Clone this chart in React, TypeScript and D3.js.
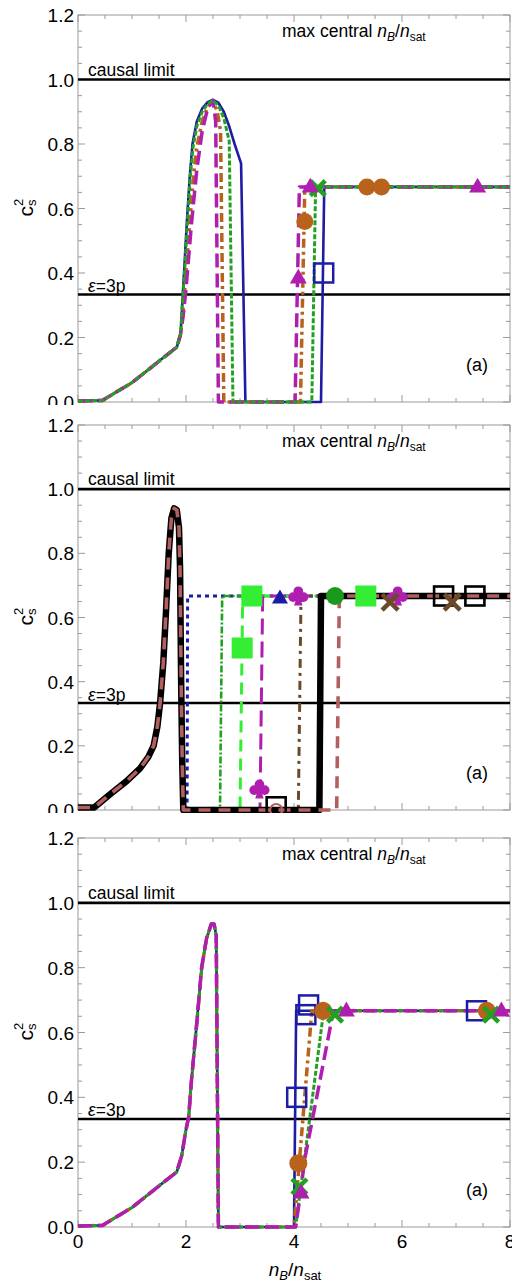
import React from "react";
import * as d3 from "d3";

type Pt = [number, number];

// ---- curve data: speed of sound squared vs. baryon density ----
const topLower: Pt[] = [[0, 0.003], [0.45, 0.005], [0.7, 0.03], [1.0, 0.06], [1.3, 0.1], [1.6, 0.14], [1.83, 0.17], [1.9, 0.21]];
const topBlue: Pt[] = [...topLower, [1.93, 0.3], [1.97, 0.42], [2.02, 0.57], [2.07, 0.7], [2.12, 0.8], [2.2, 0.87], [2.3, 0.91], [2.4, 0.93], [2.5, 0.937], [2.6, 0.928], [2.7, 0.9], [2.8, 0.855], [2.9, 0.8], [3.02, 0.74], [3.1, 0], [4.5, 0], [4.56, 0.667], [8, 0.667]];
const topGreen: Pt[] = [...topLower, [1.93, 0.3], [1.98, 0.42], [2.03, 0.57], [2.08, 0.7], [2.13, 0.79], [2.2, 0.855], [2.3, 0.9], [2.4, 0.925], [2.5, 0.935], [2.6, 0.92], [2.7, 0.88], [2.8, 0.81], [2.87, 0], [4.33, 0], [4.4, 0.667], [8, 0.667]];
const topOrange: Pt[] = [...topLower, [1.94, 0.27], [2.0, 0.4], [2.08, 0.58], [2.15, 0.72], [2.2, 0.79], [2.3, 0.87], [2.4, 0.915], [2.5, 0.933], [2.58, 0.9], [2.64, 0.84], [2.7, 0], [4.12, 0], [4.2, 0.667], [8, 0.667]];
const topMagenta: Pt[] = [...topLower, [1.95, 0.27], [2.0, 0.35], [2.1, 0.55], [2.2, 0.72], [2.3, 0.84], [2.4, 0.91], [2.5, 0.935], [2.55, 0.87], [2.6, 0], [4.02, 0], [4.1, 0.667], [8, 0.667]];

const midPeak: Pt[] = [[0, 0.008], [0.3, 0.008], [0.6, 0.05], [0.9, 0.09], [1.15, 0.13], [1.3, 0.165], [1.4, 0.2], [1.47, 0.26], [1.52, 0.333], [1.58, 0.46], [1.63, 0.62], [1.68, 0.8], [1.73, 0.91], [1.78, 0.94], [1.83, 0.935], [1.87, 0.88], [1.89, 0.75], [1.91, 0.4], [1.93, 0.15], [1.95, 0]];
const midBlue: Pt[] = [...midPeak, [2.02, 0], [2.03, 0.667], [8, 0.667]];
const midGreen: Pt[] = [...midPeak, [2.63, 0], [2.67, 0.667], [8, 0.667]];
const midLime: Pt[] = [...midPeak, [3.0, 0], [3.05, 0.667], [8, 0.667]];
const midMagenta: Pt[] = [...midPeak, [3.37, 0], [3.42, 0.667], [8, 0.667]];
const midBrown: Pt[] = [...midPeak, [4.08, 0], [4.13, 0.667], [8, 0.667]];
const midBlack: Pt[] = [...midPeak, [4.47, 0], [4.5, 0.667], [8, 0.667]];
const midRosy: Pt[] = [...midPeak, [4.79, 0], [4.84, 0.667], [8, 0.667]];

const botCommon: Pt[] = [[0, 0.003], [0.45, 0.005], [0.7, 0.03], [1.0, 0.06], [1.3, 0.1], [1.6, 0.14], [1.83, 0.17], [1.92, 0.22], [2.0, 0.3], [2.05, 0.34], [2.1, 0.45], [2.2, 0.63], [2.29, 0.8], [2.38, 0.89], [2.47, 0.935], [2.52, 0.935], [2.56, 0.9], [2.6, 0], [4.0, 0]];
const botBlue: Pt[] = [...botCommon, [4.04, 0.667], [8, 0.667]];
const botOrange: Pt[] = [...botCommon, [4.33, 0.667], [8, 0.667]];
const botGreen: Pt[] = [...botCommon, [4.03, 0], [4.55, 0.667], [8, 0.667]];
const botMagenta: Pt[] = [...botCommon, [4.03, 0], [4.1, 0.08], [4.2, 0.21], [4.73, 0.667], [8, 0.667]];

// ---- maximum central density markers ----
const topSquares: Pt[] = [[4.55, 0.4]];
const topCircles: Pt[] = [[4.2, 0.56], [5.35, 0.667], [5.62, 0.667]];
const topCrosses: Pt[] = [[4.44, 0.663]];
const topTriangles: Pt[] = [[4.08, 0.385], [4.3, 0.667], [7.4, 0.667]];

const midLimeSquares: Pt[] = [[3.04, 0.505], [3.22, 0.667], [5.33, 0.667]];
const midBlueTriangles: Pt[] = [[3.74, 0.66]];
const midClubs: Pt[] = [[3.36, 0.065], [4.08, 0.667], [5.92, 0.667]];
const midGreenCircles: Pt[] = [[4.76, 0.667]];
const midBlackSquares: Pt[] = [[3.67, 0.01], [6.77, 0.667], [7.35, 0.667]];
const midRosyCircles: Pt[] = [[3.67, 0.0]];
const midBrownCrosses: Pt[] = [[5.78, 0.648], [6.93, 0.648]];

const botSquares: Pt[] = [[4.05, 0.4], [4.22, 0.655], [4.27, 0.685], [7.38, 0.667]];
const botCircles: Pt[] = [[4.08, 0.197], [4.54, 0.667], [7.57, 0.667]];
const botCrosses: Pt[] = [[4.1, 0.125], [4.76, 0.655], [7.65, 0.655]];
const botTriangles: Pt[] = [[4.13, 0.105], [4.97, 0.667], [7.84, 0.667]];

const xTickValues = [0, 2, 4, 6, 8];
const yTickValues = [0, 0.2, 0.4, 0.6, 0.8, 1.0, 1.2];
const causalLimit = 1.0;
const conformalLimit = 1 / 3;

// ---- layout ----
const W = 512;
const H = 1285;
const FONT = "'Liberation Sans', Arial, Helvetica, sans-serif";
const x = d3.scaleLinear().domain([0, 8]).range([78, 510]);

const panels = [
  { y0: 402, y12: 15, clipTop: 0, clipBottom: 405, xLabels: false },
  { y0: 810, y12: 425, clipTop: 405, clipBottom: 813, xLabels: false },
  { y0: 1227, y12: 838, clipTop: 813, clipBottom: 1285, xLabels: true },
];

const C = {
  blue: "#1c1ca4",
  green: "#22a022",
  orange: "#b8621b",
  magenta: "#b01eb0",
  lime: "#33ee33",
  brown: "#6b4a2a",
  black: "#000000",
  rosy: "#b35f5f",
  frame: "#9a9a9a",
};

type Style = { color: string; width: number; dash?: string };

function Curve({ pts, y, s }: { pts: Pt[]; y: d3.ScaleLinear<number, number>; s: Style }) {
  const line = d3.line<Pt>().x((d) => x(d[0])).y((d) => y(d[1]));
  return (
    <path d={line(pts) || ""} fill="none" stroke={s.color} strokeWidth={s.width}
      strokeDasharray={s.dash} strokeLinejoin="round" />
  );
}

function OpenSquare({ cx, cy, size, color, sw = 2.5 }: any) {
  return <rect x={cx - size / 2} y={cy - size / 2} width={size} height={size} fill="none" stroke={color} strokeWidth={sw} />;
}
function FilledSquare({ cx, cy, size, color }: any) {
  return <rect x={cx - size / 2} y={cy - size / 2} width={size} height={size} fill={color} />;
}
function Triangle({ cx, cy, size, color }: any) {
  const h = size * 0.87;
  return <path d={`M${cx},${cy - h * 0.62}L${cx + size / 2},${cy + h * 0.38}L${cx - size / 2},${cy + h * 0.38}Z`} fill={color} />;
}
function Cross({ cx, cy, size, color, sw = 4.5 }: any) {
  const r = size / 2;
  return (
    <g stroke={color} strokeWidth={sw}>
      <line x1={cx - r} y1={cy - r} x2={cx + r} y2={cy + r} />
      <line x1={cx - r} y1={cy + r} x2={cx + r} y2={cy - r} />
    </g>
  );
}
function Club({ cx, cy, size, color }: any) {
  const k = size / 20;
  return (
    <g fill={color}>
      <circle cx={cx} cy={cy - 4.5 * k} r={4.6 * k} />
      <circle cx={cx - 5 * k} cy={cy + 1 * k} r={4.6 * k} />
      <circle cx={cx + 5 * k} cy={cy + 1 * k} r={4.6 * k} />
      <path d={`M${cx - 1.2 * k},${cy}L${cx + 1.2 * k},${cy}L${cx + 4 * k},${cy + 9 * k}L${cx - 4 * k},${cy + 9 * k}Z`} />
    </g>
  );
}

function Frame({ p, y }: { p: (typeof panels)[0]; y: d3.ScaleLinear<number, number> }) {
  const xt = d3.range(0, 8.0001, 0.5);
  const yt = d3.range(0, 1.2001, 0.05);
  const x0 = x(0), x1 = x(8);
  return (
    <g stroke={C.frame} strokeWidth={1}>
      <rect x={x0} y={p.y12} width={x1 - x0} height={p.y0 - p.y12} fill="none" />
      {xt.map((v, i) => {
        const major = Math.abs(v / 2 - Math.round(v / 2)) < 1e-6;
        const L = major ? 7 : 4;
        return (
          <g key={"x" + i}>
            <line x1={x(v)} x2={x(v)} y1={p.y0} y2={p.y0 - L} />
            <line x1={x(v)} x2={x(v)} y1={p.y12} y2={p.y12 + L} />
          </g>
        );
      })}
      {yt.map((v, i) => {
        const major = Math.abs(v / 0.2 - Math.round(v / 0.2)) < 1e-6;
        const L = major ? 7 : 4;
        return (
          <g key={"y" + i}>
            <line x1={x0} x2={x0 + L} y1={y(v)} y2={y(v)} />
            <line x1={x1} x2={x1 - L} y1={y(v)} y2={y(v)} />
          </g>
        );
      })}
    </g>
  );
}

function Annotations({ p, y }: { p: (typeof panels)[0]; y: d3.ScaleLinear<number, number> }) {
  const mid = (p.y0 + p.y12) / 2;
  return (
    <g fontFamily={FONT} fill="#000">
      {yTickValues.map((v) => (
        <text key={v} x={74} y={y(v) + 7} fontSize={19} textAnchor="end">{d3.format(".1f")(v)}</text>
      ))}
      {p.xLabels && xTickValues.map((v) => (
        <text key={"xl" + v} x={x(v)} y={p.y0 + 21} fontSize={19} textAnchor="middle">{v}</text>
      ))}
      <text x={282} y={p.y12 + 22} fontSize={17.5}>
        max central <tspan fontStyle="italic">n</tspan>
        <tspan fontStyle="italic" fontSize={12} dy={4}>B</tspan>
        <tspan dy={-4}>/</tspan>
        <tspan fontStyle="italic">n</tspan>
        <tspan fontSize={12} dy={4}>sat</tspan>
      </text>
      <text x={88} y={y(causalLimit) - 4} fontSize={17.5}>causal limit</text>
      <text x={88} y={y(conformalLimit) - 2.5} fontSize={17.5}>
        <tspan fontStyle="italic">ε</tspan>=3p
      </text>
      <text x={477} y={p.y0 - 31} fontSize={18} textAnchor="middle">(a)</text>
      <g transform={`translate(33,${mid + 8}) rotate(-90)`}>
        <text x={0} y={0} fontSize={21}>c</text>
        <text x={10.5} y={3} fontSize={13}>s</text>
        <text x={10.5} y={-10} fontSize={13}>2</text>
      </g>
    </g>
  );
}

function RefLines({ y }: { y: d3.ScaleLinear<number, number> }) {
  return (
    <g stroke="#000" strokeWidth={2.6}>
      <line x1={x(0)} x2={x(8)} y1={y(causalLimit)} y2={y(causalLimit)} />
      <line x1={x(0)} x2={x(8)} y1={y(conformalLimit)} y2={y(conformalLimit)} />
    </g>
  );
}

export default function App() {
  const ys = panels.map((p) => d3.scaleLinear().domain([0, 1.2]).range([p.y0, p.y12]));

  const topStyles: Record<string, Style> = {
    blue: { color: C.blue, width: 2.6 },
    orange: { color: C.orange, width: 3.5, dash: "9,4,3,4" },
    magenta: { color: C.magenta, width: 3.5, dash: "14,6" },
    green: { color: C.green, width: 3, dash: "5,2" },
  };

  const p0 = panels[0], p1 = panels[1], p2 = panels[2];
  const [y0, y1, y2] = ys;

  return (
    <svg width={W} height={H} viewBox={`0 0 ${W} ${H}`}
      style={{ position: "absolute", left: 0, top: 0, background: "#fff" }}>
      <defs>
        {panels.map((p, i) => (
          <clipPath id={`panel${i}`} key={i}>
            <rect x={0} y={p.clipTop} width={W} height={p.clipBottom - p.clipTop} />
          </clipPath>
        ))}
      </defs>
      <rect width={W} height={H} fill="#fff" />

      {/* Panel 1 */}
      <g clipPath="url(#panel0)">
        <Frame p={p0} y={y0} />
        <RefLines y={y0} />
        <Curve pts={topBlue} y={y0} s={topStyles.blue} />
        <Curve pts={topOrange} y={y0} s={topStyles.orange} />
        <Curve pts={topMagenta} y={y0} s={topStyles.magenta} />
        <Curve pts={topGreen} y={y0} s={topStyles.green} />
        {topSquares.map((d, i) => <OpenSquare key={"s" + i} cx={x(d[0])} cy={y0(d[1])} size={19} color={C.blue} />)}
        {topCircles.map((d, i) => <circle key={"c" + i} cx={x(d[0])} cy={y0(d[1])} r={8.5} fill={C.orange} />)}
        {topCrosses.map((d, i) => <Cross key={"x" + i} cx={x(d[0])} cy={y0(d[1])} size={15} color={C.green} />)}
        {topTriangles.map((d, i) => <Triangle key={"t" + i} cx={x(d[0])} cy={y0(d[1])} size={17} color={C.magenta} />)}
        <Annotations p={p0} y={y0} />
      </g>

      {/* Panel 2 */}
      <g clipPath="url(#panel1)">
        <Frame p={p1} y={y1} />
        <RefLines y={y1} />
        <Curve pts={midBlue} y={y1} s={{ color: C.blue, width: 3, dash: "4,4" }} />
        <Curve pts={midGreen} y={y1} s={{ color: C.green, width: 2.6, dash: "7,2,2,2" }} />
        <Curve pts={midLime} y={y1} s={{ color: C.lime, width: 3, dash: "12,7" }} />
        <Curve pts={midMagenta} y={y1} s={{ color: C.magenta, width: 3, dash: "16,7" }} />
        <Curve pts={midBrown} y={y1} s={{ color: C.brown, width: 3, dash: "9,5,3,5" }} />
        <Curve pts={midBlack} y={y1} s={{ color: C.black, width: 6.5 }} />
        <Curve pts={midRosy} y={y1} s={{ color: C.rosy, width: 3.6, dash: "12,8" }} />
        {midBlueTriangles.map((d, i) => <Triangle key={"bt" + i} cx={x(d[0])} cy={y1(d[1])} size={16} color={C.blue} />)}
        {midLimeSquares.map((d, i) => <FilledSquare key={"ls" + i} cx={x(d[0])} cy={y1(d[1])} size={21} color={C.lime} />)}
        {midBlackSquares.map((d, i) => <OpenSquare key={"ks" + i} cx={x(d[0])} cy={y1(d[1])} size={19} color={C.black} sw={2.6} />)}
        {midRosyCircles.map((d, i) => <circle key={"rc" + i} cx={x(d[0])} cy={y1(d[1])} r={6} fill="none" stroke={C.rosy} strokeWidth={2} />)}
        {midClubs.map((d, i) => <Club key={"cl" + i} cx={x(d[0])} cy={y1(d[1])} size={21} color={C.magenta} />)}
        {midGreenCircles.map((d, i) => <circle key={"gc" + i} cx={x(d[0])} cy={y1(d[1])} r={9} fill="#1a9a1a" />)}
        {midBrownCrosses.map((d, i) => <Cross key={"bx" + i} cx={x(d[0])} cy={y1(d[1])} size={16} color={C.brown} sw={4.5} />)}
        <Annotations p={p1} y={y1} />
      </g>

      {/* Panel 3 */}
      <g clipPath="url(#panel2)">
        <Frame p={p2} y={y2} />
        <RefLines y={y2} />
        <Curve pts={botBlue} y={y2} s={topStyles.blue} />
        <Curve pts={botOrange} y={y2} s={topStyles.orange} />
        <Curve pts={botGreen} y={y2} s={topStyles.green} />
        <Curve pts={botMagenta} y={y2} s={topStyles.magenta} />
        {botSquares.map((d, i) => <OpenSquare key={"s" + i} cx={x(d[0])} cy={y2(d[1])} size={19} color={C.blue} />)}
        {botCircles.map((d, i) => <circle key={"c" + i} cx={x(d[0])} cy={y2(d[1])} r={9} fill={C.orange} />)}
        {botCrosses.map((d, i) => <Cross key={"x" + i} cx={x(d[0])} cy={y2(d[1])} size={15} color={C.green} />)}
        {botTriangles.map((d, i) => <Triangle key={"t" + i} cx={x(d[0])} cy={y2(d[1])} size={17} color={C.magenta} />)}
        <Annotations p={p2} y={y2} />
        <text x={295} y={1276} fontFamily={FONT} fontSize={19} textAnchor="middle">
          <tspan fontStyle="italic">n</tspan>
          <tspan fontStyle="italic" fontSize={13} dy={4}>B</tspan>
          <tspan dy={-4}>/</tspan>
          <tspan fontStyle="italic">n</tspan>
          <tspan fontSize={13} dy={4}>sat</tspan>
        </text>
      </g>
    </svg>
  );
}
